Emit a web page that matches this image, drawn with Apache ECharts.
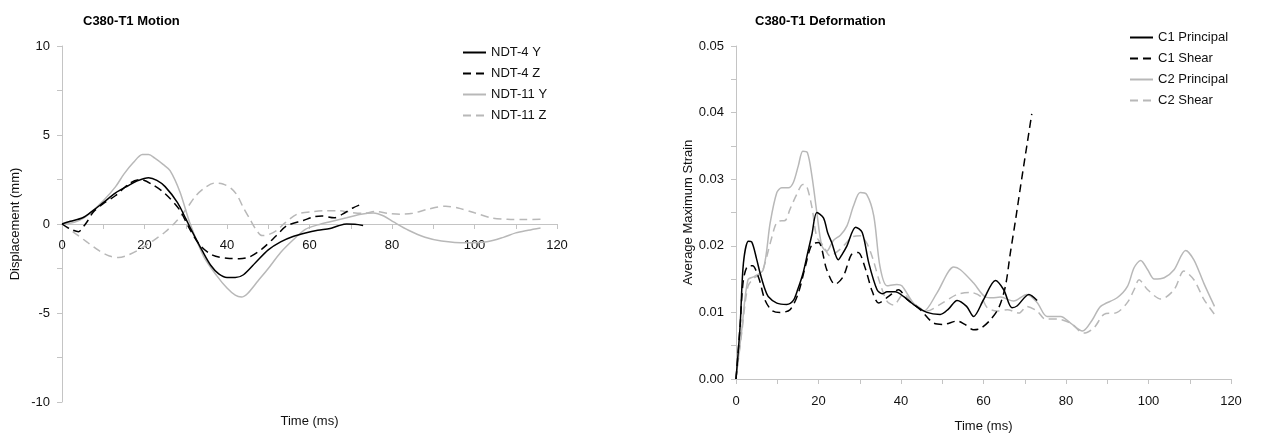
<!DOCTYPE html>
<html>
<head>
<meta charset="utf-8">
<script src="https://cdn.jsdelivr.net/npm/echarts@6.0.0/dist/echarts.min.js"></script>
<style>
  html, body { margin: 0; padding: 0; background: #fff; }
  #chart { width: 1261px; height: 439px; }
</style>
</head>
<body>
<div id="chart"></div>
<script>
// C380-T1 Motion: displacement (mm) against time (ms)
const ndt4Y = [[0,0],[2,0.15],[5,0.35],[7.5,0.75],[10,1.2],[13,1.75],[16,2.15],[18,2.4],[21,2.6],[23,2.45],[25,2.1],[28,1.2],[30,0.3],[31.5,-0.4],[34,-1.5],[36,-2.3],[38,-2.8],[40,-3.0],[42,-3.0],[44,-2.85],[47,-2.15],[50,-1.45],[53,-1.0],[56,-0.7],[59,-0.5],[62,-0.35],[65,-0.25],[67,-0.1],[69,0],[71,-0.02],[73,-0.08]]
const ndt4Z = [[0,0],[2,-0.28],[4,-0.43],[5,-0.2],[6,0.1],[7.5,0.65],[10,1.15],[13,1.6],[16.5,2.3],[19,2.5],[22,2.2],[25,1.7],[28.5,0.8],[31,-0.3],[33.5,-1.2],[36.5,-1.75],[40,-1.92],[43,-1.95],[45.5,-1.85],[48.5,-1.4],[52,-0.65],[54.5,-0.1],[58.5,0.2],[61,0.4],[63,0.45],[66,0.35],[68,0.55],[70.5,0.9],[73,1.15]]
const ndt11Y = [[0,0],[3,0.1],[5,0.3],[7.5,0.75],[10,1.3],[13,2.1],[15,2.8],[17.3,3.45],[19.5,3.9],[21,3.9],[22.5,3.7],[24.5,3.35],[26.2,3.0],[28.6,1.8],[31,0.05],[34.3,-1.8],[37.5,-2.9],[40,-3.6],[42,-4.0],[43.5,-4.1],[45,-3.9],[47.5,-3.2],[50,-2.5],[53,-1.6],[56,-0.9],[59,-0.3],[62,-0.05],[65,0.13],[69,0.35],[72.5,0.55],[75.5,0.62],[78,0.45],[80.5,0.1],[84,-0.35],[88,-0.74],[92,-0.95],[98,-1.06],[103,-1.0],[107,-0.75],[110,-0.5],[113,-0.35],[116,-0.22]]
const ndt11Z = [[0,0],[3,-0.5],[6,-1.0],[9,-1.5],[11.5,-1.8],[13.7,-1.88],[16,-1.75],[19,-1.4],[22,-0.95],[25,-0.45],[27.5,0.1],[30,0.8],[32.5,1.6],[35,2.1],[37,2.3],[39,2.25],[41,2.0],[42.5,1.6],[44,0.9],[45.5,0.3],[47,-0.3],[48.5,-0.65],[50,-0.6],[52,-0.37],[54,0.05],[57,0.55],[61,0.7],[64,0.75],[67,0.75],[70,0.65],[73,0.6],[76,0.7],[79,0.6],[82,0.55],[85,0.6],[89,0.85],[93,1.0],[96,0.9],[100,0.63],[104,0.35],[108,0.27],[112,0.25],[116,0.27]]

// C380-T1 Deformation: average maximum strain against time (ms)
const c1Principal = [[0,0],[1,0.008],[1.8,0.0174],[3,0.0207],[3.8,0.0206],[5,0.018],[5.8,0.016],[7,0.0135],[7.8,0.0124],[9.9,0.0114],[12.3,0.0112],[13.9,0.0118],[15,0.0135],[16.3,0.016],[17.4,0.019],[18.4,0.0217],[19.6,0.025],[21.2,0.0242],[22.2,0.022],[23.2,0.0205],[24.8,0.0179],[25.8,0.0188],[26.9,0.02],[29,0.0228],[30.6,0.022],[32.2,0.0174],[34.2,0.0134],[35.5,0.0128],[36.6,0.0131],[38.6,0.0131],[40.6,0.0124],[43,0.0112],[46.3,0.01],[49.5,0.0097],[51.5,0.0105],[53.6,0.0118],[55.9,0.0109],[57.6,0.0094],[60,0.0119],[62.9,0.0148],[64.9,0.0134],[66.9,0.0107],[68.2,0.011],[71,0.0127],[73,0.0118]]
const c1Shear = [[0,0],[1,0.008],[1.8,0.0149],[3,0.017],[4,0.017],[5.6,0.015],[7,0.0119],[8.7,0.0103],[10.7,0.01],[13.1,0.0104],[15.1,0.0129],[16.8,0.0169],[18.4,0.0202],[20,0.0205],[22,0.0164],[24,0.0142],[26,0.0154],[28,0.0187],[29.6,0.019],[31.3,0.0167],[33,0.0132],[34.6,0.0114],[37,0.0124],[39.4,0.0134],[41.4,0.012],[44.7,0.0104],[47.9,0.0084],[50.3,0.0082],[53.6,0.0087],[55.5,0.0082],[57.6,0.0074],[59.3,0.0076],[61.7,0.0089],[63.7,0.0107],[65.3,0.0139],[66.5,0.0189],[67.8,0.024],[69,0.029],[70.5,0.035],[71.7,0.0398]]
const c2Principal = [[0,0],[1.4,0.0074],[2.9,0.0149],[4.5,0.0154],[6.6,0.0164],[8.3,0.0235],[9.9,0.028],[11.1,0.0287],[12.7,0.0287],[13.9,0.0295],[15.1,0.032],[16.2,0.0342],[17.3,0.034],[18.4,0.0305],[19.6,0.025],[20.8,0.02],[22,0.0192],[23.6,0.0208],[25.3,0.0216],[26.9,0.023],[28.5,0.026],[30.1,0.028],[31.7,0.0277],[33.4,0.0245],[34.9,0.0169],[36.6,0.014],[39,0.0142],[40.2,0.014],[43,0.0114],[45.5,0.0102],[48.7,0.0129],[52.8,0.0168],[54.4,0.0164],[57.6,0.0144],[60.5,0.0123],[62.1,0.0122],[64.1,0.0123],[67.3,0.0117],[70.5,0.0127],[73,0.0115],[75.4,0.0094],[78.7,0.0094],[81.1,0.0084],[84,0.0072],[86.4,0.0089],[88.4,0.0109],[92.4,0.0122],[94.9,0.0139],[96.5,0.0167],[98.1,0.0178],[99.8,0.0164],[101.4,0.015],[103.8,0.0152],[106.2,0.0164],[109,0.0193],[111,0.0179],[113.4,0.0144],[116,0.0109]]
const c2Shear = [[0,0],[1.4,0.007],[2.9,0.0139],[4.5,0.0152],[6.2,0.0159],[8.3,0.0204],[9.5,0.023],[10.3,0.0237],[11.9,0.0238],[13.1,0.0255],[14.7,0.0277],[16.2,0.0292],[17.1,0.029],[18.4,0.0258],[19.6,0.0213],[21.2,0.02],[22.8,0.0185],[25.3,0.0195],[28.5,0.0214],[30.1,0.0215],[31.7,0.0204],[33.2,0.018],[34.9,0.0144],[36.6,0.0117],[38.2,0.0111],[40.6,0.0127],[43,0.0114],[46.3,0.0102],[49.5,0.0112],[53.6,0.0127],[56.8,0.013],[59.3,0.0124],[60.9,0.0107],[63.3,0.0102],[65.8,0.0104],[68.6,0.0099],[70.5,0.0109],[73,0.0102],[75,0.009],[77.8,0.009],[81.1,0.0084],[84.3,0.0069],[86.8,0.0077],[89.2,0.0097],[92.4,0.01],[94.9,0.0115],[96.5,0.0134],[97.7,0.0149],[99.8,0.0134],[103,0.012],[106.2,0.0134],[108.6,0.0162],[111,0.0149],[113.4,0.012],[116,0.0097]]

const BLACK = '#000'
const GREY = '#b8b8b8'
const AXIS = '#c4c4c4'
const FONT = 'Liberation Sans'
const DASH = [8, 5]

const chart = echarts.init(document.getElementById('chart'))

const lineSeries = (name, data, color, dashed, idx) => ({
  name,
  type: 'line',
  data,
  xAxisIndex: idx,
  yAxisIndex: idx,
  symbol: 'none',
  smooth: 0.3,
  lineStyle: { color, width: 1.5, type: dashed ? DASH : 'solid' },
  itemStyle: { color },
  animation: false
})

const xAxisBase = (nameGap, margin) => ({
  type: 'value',
  min: 0,
  max: 120,
  interval: 10,
  name: 'Time (ms)',
  nameLocation: 'middle',
  nameGap,
  nameTextStyle: { color: '#111', fontFamily: FONT, fontSize: 13 },
  axisLine: { onZero: false, lineStyle: { color: AXIS } },
  axisTick: { length: 5, lineStyle: { color: AXIS } },
  axisLabel: {
    color: '#111', fontFamily: FONT, fontSize: 13, margin,
    formatter: v => (v % 20 === 0 ? String(v) : '')
  },
  splitLine: { show: false }
})

const legendBase = {
  orient: 'vertical', itemWidth: 23, itemHeight: 14, itemGap: 8,
  itemStyle: { opacity: 0 },
  textStyle: { fontFamily: FONT, fontSize: 13, color: '#111' }
}

chart.setOption({
  backgroundColor: '#fff',
  title: [
    { text: 'C380-T1 Motion', left: 78, top: 10,
      textStyle: { fontFamily: FONT, fontSize: 13, fontWeight: 'bold', color: '#000' } },
    { text: 'C380-T1 Deformation', left: 750, top: 10,
      textStyle: { fontFamily: FONT, fontSize: 13, fontWeight: 'bold', color: '#000' } }
  ],
  legend: [
    Object.assign({ left: 457, top: 41, data: ['NDT-4 Y', 'NDT-4 Z', 'NDT-11 Y', 'NDT-11 Z'] }, legendBase),
    Object.assign({ left: 1124, top: 26, data: ['C1 Principal', 'C1 Shear', 'C2 Principal', 'C2 Shear'] }, legendBase)
  ],
  grid: [
    { left: 62, top: 46, width: 495, height: 356, outerBoundsMode: 'none' },
    { left: 736, top: 46, width: 495, height: 333, outerBoundsMode: 'none' }
  ],
  xAxis: [
    // the motion chart's time axis sits on displacement 0 (half-way up the grid)
    Object.assign(xAxisBase(191, 15), { gridIndex: 0, position: 'bottom', offset: -178 }),
    Object.assign(xAxisBase(41, 16), { gridIndex: 1 })
  ],
  yAxis: [
    {
      gridIndex: 0, type: 'value', min: -10, max: 10, interval: 2.5,
      name: 'Displacement (mm)', nameLocation: 'middle', nameGap: 40,
      nameTextStyle: { color: '#111', fontFamily: FONT, fontSize: 13 },
      axisLine: { show: true, onZero: false, lineStyle: { color: AXIS } },
      axisTick: { show: true, length: 5, lineStyle: { color: AXIS } },
      axisLabel: { color: '#111', fontFamily: FONT, fontSize: 13, margin: 12,
        formatter: v => (v % 5 === 0 ? String(v) : '') },
      splitLine: { show: false }
    },
    {
      gridIndex: 1, type: 'value', min: 0, max: 0.05, interval: 0.005,
      name: 'Average Maximum Strain', nameLocation: 'middle', nameGap: 40,
      nameTextStyle: { color: '#111', fontFamily: FONT, fontSize: 13 },
      axisLine: { show: true, onZero: false, lineStyle: { color: AXIS } },
      axisTick: { show: true, length: 5, lineStyle: { color: AXIS } },
      axisLabel: { color: '#111', fontFamily: FONT, fontSize: 13, margin: 12,
        formatter: v => {
          const h = Math.round(v * 1000)
          return h % 10 === 0 ? v.toFixed(2) : ''
        } },
      splitLine: { show: false }
    }
  ],
  series: [
    lineSeries('NDT-11 Z', ndt11Z, GREY, true, 0),
    lineSeries('NDT-11 Y', ndt11Y, GREY, false, 0),
    lineSeries('NDT-4 Z', ndt4Z, BLACK, true, 0),
    lineSeries('NDT-4 Y', ndt4Y, BLACK, false, 0),
    lineSeries('C2 Shear', c2Shear, GREY, true, 1),
    lineSeries('C2 Principal', c2Principal, GREY, false, 1),
    lineSeries('C1 Shear', c1Shear, BLACK, true, 1),
    lineSeries('C1 Principal', c1Principal, BLACK, false, 1)
  ]
})

window.addEventListener('resize', () => chart.resize())
</script>
</body>
</html>
